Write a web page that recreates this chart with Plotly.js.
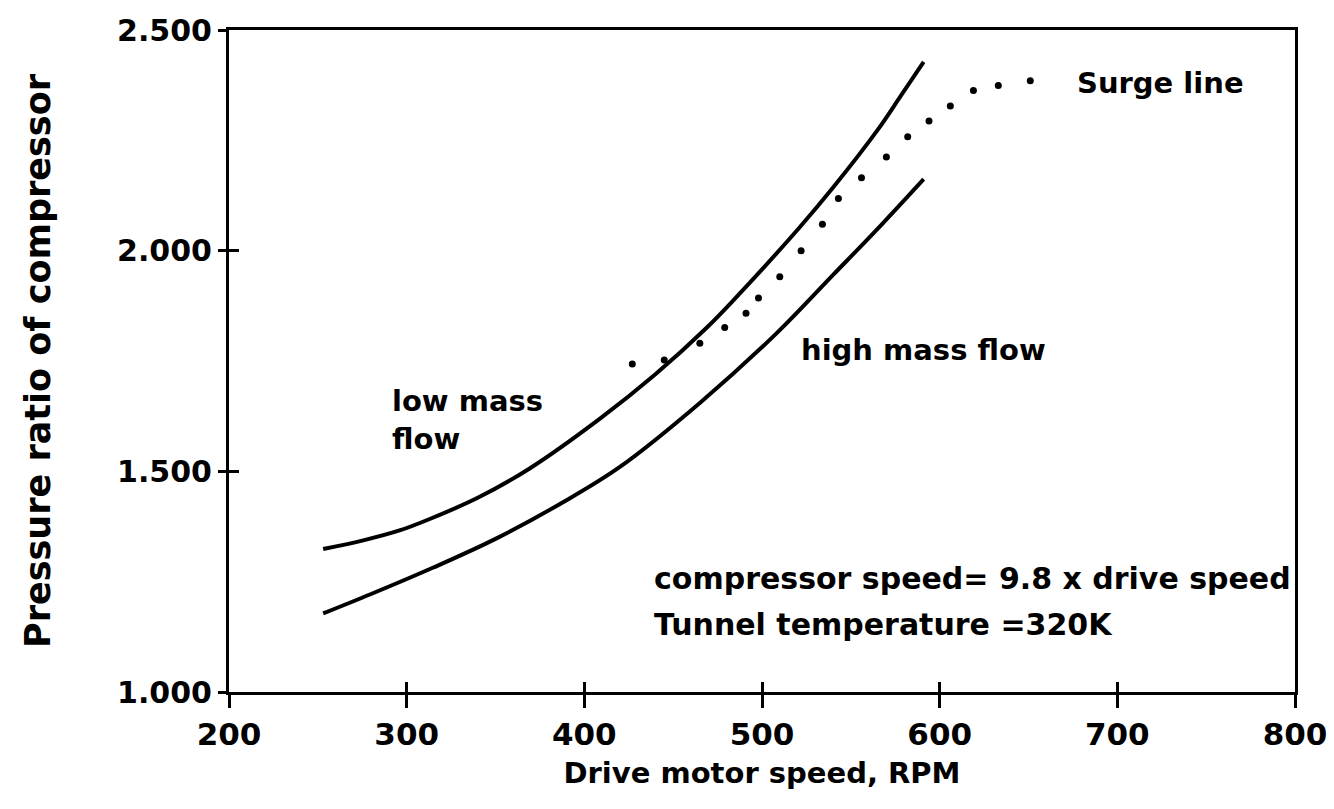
<!DOCTYPE html>
<html>
<head>
<meta charset="utf-8">
<script src="https://cdn.plot.ly/plotly-3.0.1.min.js"></script>
<style>
  html, body { margin: 0; padding: 0; background: #ffffff; }
  #chart { width: 1334px; height: 809px; }
</style>
</head>
<body>
<div id="chart"></div>
<script>
// ---- Data ----
const lowFlowRpm = [253, 275, 296, 313, 340, 369, 409, 440, 469, 484, 521, 540, 565, 578, 591];
const lowFlowPr  = [1.324, 1.343, 1.366, 1.392, 1.440, 1.506, 1.620, 1.720, 1.826, 1.888, 2.052, 2.143, 2.273, 2.350, 2.428];

const highFlowRpm = [253, 280, 315, 350, 388, 420, 465, 508, 540, 568, 591];
const highFlowPr  = [1.178, 1.222, 1.282, 1.347, 1.430, 1.510, 1.655, 1.812, 1.945, 2.062, 2.162];

const surgeRpm = [427, 445, 465, 479, 491, 498, 510, 522, 534, 543, 556, 570, 582, 594, 606, 619, 633, 651];
const surgePr  = [1.743, 1.752, 1.790, 1.826, 1.858, 1.893, 1.941, 2.000, 2.060, 2.118, 2.165, 2.212, 2.258, 2.294, 2.328, 2.363, 2.374, 2.385];

const xTicks = [200, 300, 400, 500, 600, 700, 800];
const yTicks = [1.0, 1.5, 2.0, 2.5];
const xRange = [200, 800];
const yRange = [1.0, 2.5];

const xTitle = 'Drive motor speed, RPM';
const yTitle = 'Pressure ratio of compressor';
const notes = {
  surge: 'Surge line',
  low: 'low mass<br>flow',
  high: 'high mass flow',
  speed: 'compressor speed= 9.8 x drive speed',
  temp: 'Tunnel temperature =320K'
};

// ---- Styling ----
const FONT = 'DejaVu Sans, Liberation Sans, Arial, sans-serif';
const INK = '#000000';

const traces = [
  { x: lowFlowRpm, y: lowFlowPr, mode: 'lines', name: 'low mass flow',
    line: { color: INK, width: 4, shape: 'spline', smoothing: 1 }, hoverinfo: 'x+y' },
  { x: highFlowRpm, y: highFlowPr, mode: 'lines', name: 'high mass flow',
    line: { color: INK, width: 4, shape: 'spline', smoothing: 1 }, hoverinfo: 'x+y' },
  // surge points drawn on the overlay axes (identical fixed ranges) so those
  // axes render their inner tick halves, giving ticks that cross the axis lines
  { x: surgeRpm, y: surgePr, xaxis: 'x2', yaxis: 'y2', mode: 'markers', name: 'Surge line',
    marker: { color: INK, size: 7 }, hoverinfo: 'x+y' }
];

const tickFont = { family: FONT, size: 31, color: INK, weight: 'bold' };
const annFont = { family: FONT, size: 29, color: INK, weight: 'bold' };
const noteFont = { family: FONT, size: 30, color: INK, weight: 'bold' };

const layout = {
  width: 1334,
  height: 809,
  margin: { l: 229, r: 39, t: 30, b: 117 },
  paper_bgcolor: '#ffffff',
  plot_bgcolor: '#ffffff',
  showlegend: false,
  xaxis: {
    range: xRange,
    tickvals: xTicks,
    ticktext: xTicks.map(v => String(v)),
    ticks: 'outside', ticklen: 13, tickwidth: 3, tickcolor: INK,
    showline: true, linewidth: 3, linecolor: INK, mirror: true,
    showgrid: false, zeroline: false,
    tickfont: tickFont,
    ticklabelstandoff: 0,
    title: { text: xTitle, font: { family: FONT, size: 29, color: INK, weight: 'bold' }, standoff: 12 }
  },
  yaxis: {
    range: yRange,
    tickvals: yTicks,
    ticktext: yTicks.map(v => v.toFixed(3)),
    ticks: 'outside', ticklen: 8, tickwidth: 3, tickcolor: INK,
    showline: true, linewidth: 3, linecolor: INK, mirror: true,
    showgrid: false, zeroline: false,
    tickfont: { family: FONT, size: 30, color: INK, weight: 'bold' },
    ticklabelstandoff: 0,
    title: { text: yTitle, font: { family: FONT, size: 35, color: INK, weight: 'bold' }, standoff: 56 }
  },
  xaxis2: {
    overlaying: 'x', side: 'bottom', anchor: 'y2', range: xRange, tickvals: xTicks, showticklabels: false,
    ticks: 'inside', ticklen: 10, tickwidth: 3, tickcolor: INK,
    showline: false, showgrid: false, zeroline: false
  },
  yaxis2: {
    overlaying: 'y', side: 'left', anchor: 'x2', range: yRange, tickvals: yTicks, showticklabels: false,
    ticks: 'inside', ticklen: 10, tickwidth: 3, tickcolor: INK,
    showline: false, showgrid: false, zeroline: false
  },
  annotations: [
    { x: 676, y: 2.38, xref: 'x', yref: 'y', text: notes.surge, showarrow: false,
      xanchor: 'left', yanchor: 'middle', font: annFont },
    { x: 290.5, y: 1.616, xref: 'x', yref: 'y', text: notes.low, showarrow: false,
      xanchor: 'left', yanchor: 'middle', align: 'left', font: annFont },
    { x: 521, y: 1.775, xref: 'x', yref: 'y', text: notes.high, showarrow: false,
      xanchor: 'left', yanchor: 'middle', font: annFont },
    { x: 438, y: 1.258, xref: 'x', yref: 'y', text: notes.speed, showarrow: false,
      xanchor: 'left', yanchor: 'middle', font: noteFont },
    { x: 438, y: 1.154, xref: 'x', yref: 'y', text: notes.temp, showarrow: false,
      xanchor: 'left', yanchor: 'middle', font: noteFont }
  ]
};

Plotly.newPlot('chart', traces, layout, { staticPlot: true, displayModeBar: false });
</script>
</body>
</html>
